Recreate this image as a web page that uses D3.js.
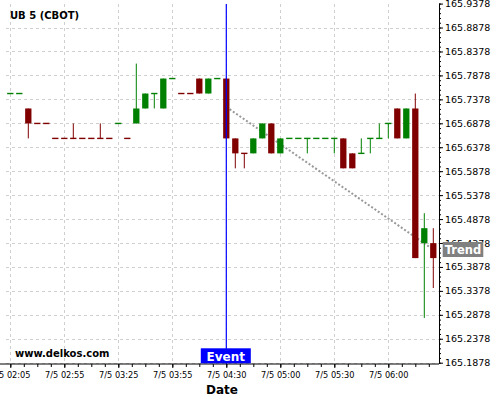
<!DOCTYPE html>
<html>
<head>
<meta charset="utf-8">
<script src="https://cdn.jsdelivr.net/npm/d3@7/dist/d3.min.js"></script>
<style>
  html, body { margin: 0; padding: 0; background: #fff; }
  svg { display: block; font-family: "DejaVu Sans", sans-serif; }
</style>
</head>
<body>
<svg id="chart" width="500" height="400"></svg>
<script>
// ---- data ----
const title = "UB 5 (CBOT)";
const times = [
  "02:05","02:10","02:15","02:25","02:35","02:45",
  "02:55","03:00","03:05","03:10","03:15","03:20",
  "03:25","03:30","03:35","03:40","03:45","03:50",
  "03:55","04:00","04:05","04:10","04:15","04:25",
  "04:30","04:35","04:40","04:45","04:50","04:55",
  "05:00","05:05","05:10","05:15","05:20","05:25",
  "05:30","05:35","05:40","05:45","05:50","05:55",
  "06:00","06:05","06:10","06:15","06:20","06:25"
];
const datePrefix = "7/5 ";
const open = [
  165.75,165.75,165.71875,165.6875,165.6875,165.65625,
  165.65625,165.65625,165.65625,165.65625,165.65625,165.65625,
  165.6875,165.65625,165.6875,165.71875,165.75,165.71875,
  165.78125,165.75,165.75,165.78125,165.75,165.78125,
  165.78125,165.65625,165.625,165.625,165.65625,165.6875,
  165.625,165.65625,165.65625,165.65625,165.65625,165.65625,
  165.65625,165.65625,165.625,165.625,165.65625,165.65625,
  165.6875,165.71875,165.65625,165.71875,165.4375,165.4375
];
const high = [
  165.75,165.75,165.71875,165.6875,165.6875,165.65625,
  165.65625,165.6875,165.65625,165.65625,165.6875,165.65625,
  165.6875,165.65625,165.8125,165.75,165.75,165.78125,
  165.78125,165.75,165.75,165.78125,165.78125,165.78125,
  165.78125,165.65625,165.625,165.65625,165.6875,165.6875,
  165.65625,165.65625,165.65625,165.65625,165.65625,165.65625,
  165.65625,165.65625,165.625,165.65625,165.65625,165.6875,
  165.6875,165.71875,165.71875,165.75,165.5,165.46875
];
const low = [
  165.75,165.75,165.65625,165.6875,165.6875,165.65625,
  165.65625,165.65625,165.65625,165.65625,165.65625,165.65625,
  165.6875,165.65625,165.6875,165.71875,165.71875,165.71875,
  165.78125,165.75,165.75,165.75,165.75,165.78125,
  165.65625,165.59375,165.59375,165.625,165.65625,165.625,
  165.625,165.65625,165.65625,165.625,165.65625,165.65625,
  165.625,165.59375,165.59375,165.625,165.625,165.65625,
  165.65625,165.65625,165.65625,165.40625,165.28125,165.34375
];
const close = [
  165.75,165.75,165.6875,165.6875,165.6875,165.65625,
  165.65625,165.65625,165.65625,165.65625,165.65625,165.65625,
  165.6875,165.65625,165.71875,165.75,165.75,165.78125,
  165.78125,165.75,165.75,165.75,165.78125,165.78125,
  165.65625,165.625,165.625,165.65625,165.6875,165.625,
  165.65625,165.65625,165.65625,165.65625,165.65625,165.65625,
  165.65625,165.59375,165.59375,165.625,165.65625,165.65625,
  165.6875,165.65625,165.71875,165.40625,165.46875,165.40625
];
const yTickLabels = ["165.1878","165.2378","165.2878","165.3378","165.3878","165.4378",
  "165.4878","165.5378","165.5878","165.6378","165.6878","165.7378","165.7878",
  "165.8378","165.8878","165.9378"];
const eventIndex = 24;
const eventLabel = "Event";
const trendStart = {i: 24, v: 165.722};
const trendEnd = {i: 47, v: 165.4242};
const trendLabel = "Trend";
const xTitle = "Date";
const watermark = "www.delkos.com";

// ---- drawing ----
const svg = d3.select("#chart");
const n = close.length;
const UP = "#008000", DOWN = "#800000";

const xb = d3.scaleBand().domain(d3.range(n)).range([5.8, 437.8]).paddingInner(0).paddingOuter(0);
const xc = d3.scaleLinear().domain([0, n - 1]).range([xb(0) + xb.bandwidth()/2, xb(n-1) + xb.bandwidth()/2]);
const yVals = yTickLabels.map(Number);
const y = d3.scaleLinear().domain([d3.min(yVals), d3.max(yVals)]).range([362.7, 3.6]);

const axisY = 364, axisX = 439;

// grid
const grid = svg.append("g").attr("stroke", "#cfcfcf").attr("stroke-dasharray", "3,3").attr("stroke-width", 1);
yVals.slice(0, -1).forEach(v => {
  grid.append("line").attr("x1", 6).attr("x2", axisX).attr("y1", Math.round(y(v)) + 0.5).attr("y2", Math.round(y(v)) + 0.5);
});
const majorIdx = d3.range(0, n, 6);
majorIdx.forEach(i => {
  grid.append("line").attr("x1", Math.round(xc(i)) + 0.5).attr("x2", Math.round(xc(i)) + 0.5).attr("y1", 4).attr("y2", axisY);
});

// trend line (under candles)
svg.append("line")
  .attr("x1", xc(trendStart.i)).attr("y1", y(trendStart.v))
  .attr("x2", xc(trendEnd.i)).attr("y2", y(trendEnd.v))
  .attr("stroke", "#999").attr("stroke-width", 2).attr("stroke-dasharray", "2,2");

// candles
const dirs = [];
for (let i = 0; i < n; i++) {
  let d;
  if (close[i] > open[i]) d = 1;
  else if (close[i] < open[i]) d = -1;
  else if (i > 0 && close[i] > close[i-1]) d = 1;
  else if (i > 0 && close[i] < close[i-1]) d = -1;
  else d = i > 0 ? dirs[i-1] : 1;
  dirs.push(d);
}
const bw = xb.bandwidth() * 0.7;
const cg = svg.append("g");
d3.range(n).forEach(i => {
  const col = dirs[i] > 0 ? UP : DOWN;
  const cx = xc(i);
  if (high[i] !== low[i]) {
    cg.append("line").attr("x1", cx).attr("x2", cx)
      .attr("y1", y(high[i])).attr("y2", y(low[i]))
      .attr("stroke", col).attr("stroke-width", 1);
  }
  const top = y(Math.max(open[i], close[i]));
  const bot = y(Math.min(open[i], close[i]));
  const h = Math.max(bot - top, 1.4);
  cg.append("rect").attr("x", cx - bw/2).attr("width", bw)
    .attr("y", bot - top < 1.4 ? top - 0.7 : top).attr("height", h)
    .attr("fill", col);
});

// event line
svg.append("line").attr("x1", xc(eventIndex)).attr("x2", xc(eventIndex))
  .attr("y1", 4).attr("y2", axisY).attr("stroke", "#0000ff").attr("stroke-width", 1.2);

// x axis
const xAxis = d3.axisBottom(xc).tickValues(majorIdx).tickSize(4)
  .tickFormat(i => datePrefix + times[i]);
const gx = svg.append("g").attr("transform", `translate(0,${axisY})`).call(xAxis);
gx.select(".domain").remove();
gx.selectAll("text").attr("font-size", "8.2px").attr("font-family", "DejaVu Sans").attr("fill", "#000").attr("dy", "0.71em").attr("y", 8);
gx.selectAll("line").attr("stroke", "#000");
const gxm = svg.append("g").attr("transform", `translate(0,${axisY})`)
  .call(d3.axisBottom(xc).tickValues(d3.range(0, n, 1.5)).tickSize(3).tickFormat(""));
gxm.select(".domain").remove();
gxm.selectAll("line").attr("stroke", "#000");
svg.append("line").attr("x1", 0).attr("x2", axisX).attr("y1", axisY).attr("y2", axisY).attr("stroke", "#000").attr("stroke-width", 1);

// y axis
const yAxis = d3.axisRight(y).tickValues(yVals).tickSize(4).tickFormat((v, k) => yTickLabels[k]);
const gy = svg.append("g").attr("transform", `translate(${axisX},0)`).call(yAxis);
gy.select(".domain").remove();
gy.selectAll("text").attr("font-size", "9.5px").attr("font-family", "DejaVu Sans").attr("fill", "#000").attr("x", 6);
gy.selectAll("line").attr("stroke", "#000");
const minorY = d3.range(0, 76).map(k => yVals[0] + k * 0.01);
const gym = svg.append("g").attr("transform", `translate(${axisX},0)`)
  .call(d3.axisRight(y).tickValues(minorY).tickSize(2).tickFormat(""));
gym.select(".domain").remove();
gym.selectAll("line").attr("stroke", "#000");
svg.append("line").attr("x1", axisX + 0.5).attr("x2", axisX + 0.5).attr("y1", y(d3.max(yVals))).attr("y2", axisY).attr("stroke", "#000").attr("stroke-width", 1);

// labels
svg.append("text").attr("x", 10).attr("y", 19.3).attr("font-size", "10px").attr("font-weight", "bold").text(title);
svg.append("text").attr("x", 15).attr("y", 357).attr("font-size", "10px").attr("font-weight", "bold").text(watermark);
svg.append("text").attr("x", 222).attr("y", 393.5).attr("text-anchor", "middle").attr("font-size", "12px").attr("font-weight", "bold").text(xTitle);

// event label
const ex = xc(eventIndex);
svg.append("rect").attr("x", ex - 25.5).attr("y", 348.3).attr("width", 50).attr("height", 15).attr("fill", "#0000ff");
svg.append("text").attr("x", ex - 0.5).attr("y", 361).attr("text-anchor", "middle").attr("fill", "#fff")
  .attr("font-size", "12px").attr("font-weight", "bold").text(eventLabel);

// trend label
const ty = y(trendEnd.v);
svg.append("rect").attr("x", 442.7).attr("y", ty - 7.5).attr("width", 40.6).attr("height", 15).attr("fill", "#808080");
svg.append("text").attr("x", 463).attr("y", ty + 4.3).attr("text-anchor", "middle").attr("fill", "#fff")
  .attr("font-size", "11.5px").attr("font-weight", "bold").text(trendLabel);
</script>
</body>
</html>
